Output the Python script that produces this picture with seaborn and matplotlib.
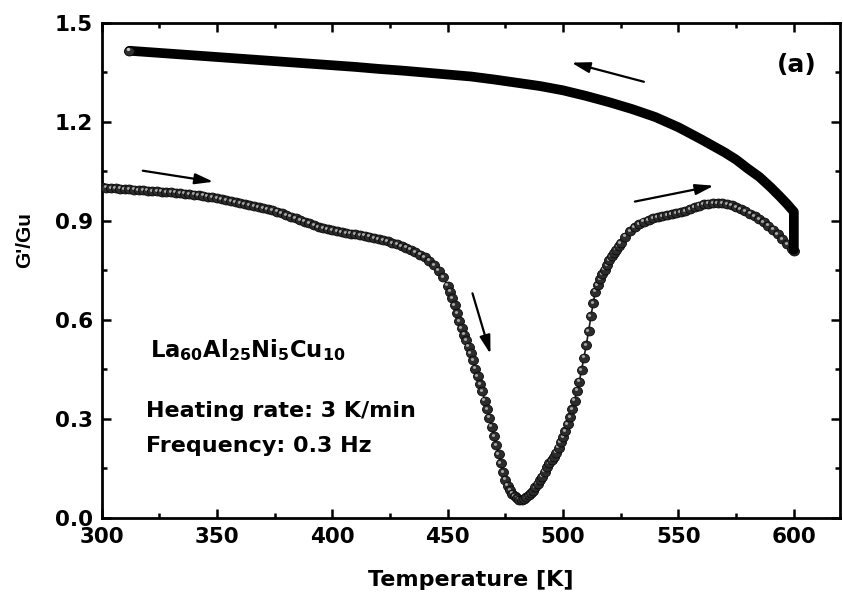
import numpy as np
import pandas as pd
import matplotlib
matplotlib.use("Agg")
import matplotlib.pyplot as plt
import matplotlib.transforms as mtransforms
from matplotlib.path import Path
from matplotlib.ticker import MultipleLocator
import seaborn as sns

# ---------------- data ----------------
# heating run (T in K, G'/Gu)
heat_T = [300, 302, 304, 306, 308, 310, 312, 314, 316, 318, 320, 322, 324, 326, 328, 330,
          332, 334, 336, 338, 340, 342, 344, 346, 348, 350, 352, 354, 356, 358, 360, 362,
          364, 366, 368, 370, 372, 374, 376, 378, 380, 382, 384, 386, 388, 390, 392, 394,
          396, 398, 400, 402, 404, 406, 408, 410, 412, 414, 416, 418, 420, 422, 424, 426,
          428, 430, 432, 434, 436, 438, 440, 442, 444, 446, 448, 450, 451,
          452, 453, 454, 455, 456, 457, 458, 459, 460, 461, 462, 463, 464, 465, 466, 467,
          468, 469, 470, 471, 472, 473, 474, 475, 476, 477, 478, 479, 480, 481, 482, 483,
          484, 485, 486, 487, 488, 489, 490, 491, 492, 493, 494, 495, 496, 497, 498, 499,
          500, 501, 502, 503, 504, 505, 506, 507, 508, 509, 510, 511, 512, 513, 514, 515,
          516, 517, 518, 519, 520, 521, 522, 523, 524,
          525, 527, 529, 531, 533, 535, 537, 539, 541, 543, 545, 547, 549, 551, 553, 555,
          557, 559, 561, 563, 565, 567, 569, 571, 573, 575, 577, 579, 581, 583, 585, 587,
          589, 591, 593, 595, 597, 599, 600]
heat_G = [1.001, 1.000, 0.999, 0.998, 0.997, 0.996, 0.995, 0.994, 0.993, 0.992, 0.991, 0.990,
          0.989, 0.988, 0.987, 0.986, 0.985, 0.983, 0.982, 0.980, 0.979, 0.978, 0.976, 0.973,
          0.971, 0.968, 0.966, 0.963, 0.960, 0.957, 0.954, 0.951, 0.948, 0.945, 0.942, 0.939,
          0.936, 0.932, 0.927, 0.922, 0.917, 0.912, 0.907, 0.902, 0.897, 0.892, 0.887, 0.880,
          0.877, 0.874, 0.871, 0.868, 0.866, 0.863, 0.861, 0.859, 0.857, 0.855, 0.852, 0.848,
          0.845, 0.841, 0.838, 0.833, 0.828, 0.823, 0.818, 0.812, 0.805, 0.797, 0.789, 0.779,
          0.766, 0.749, 0.728, 0.703, 0.685,
          0.665, 0.645, 0.620, 0.595, 0.575, 0.555, 0.538, 0.518, 0.498, 0.478, 0.452, 0.430,
          0.405, 0.383, 0.355, 0.330, 0.303, 0.276, 0.248, 0.220, 0.192, 0.165, 0.138, 0.115,
          0.097, 0.084, 0.073, 0.065, 0.059, 0.055, 0.054, 0.056, 0.062, 0.068, 0.074, 0.082,
          0.092, 0.103, 0.114, 0.124, 0.140, 0.155, 0.165, 0.175, 0.185, 0.197, 0.212, 0.228,
          0.245, 0.262, 0.283, 0.305, 0.330, 0.355, 0.385, 0.412, 0.448, 0.485, 0.522, 0.565,
          0.610, 0.650, 0.685, 0.705, 0.722, 0.738, 0.752, 0.766, 0.780, 0.792, 0.803, 0.812,
          0.822,
          0.832, 0.852, 0.868, 0.880, 0.890, 0.897, 0.902, 0.907, 0.911, 0.914, 0.917, 0.920,
          0.923, 0.926, 0.930, 0.935, 0.941, 0.946, 0.950, 0.952, 0.953, 0.954, 0.953, 0.950,
          0.947, 0.942, 0.936, 0.929, 0.921, 0.913, 0.904, 0.895, 0.885, 0.873, 0.859, 0.844,
          0.829, 0.815, 0.808]

# isothermal hold at 600 K, then cooling run back down
cool_T = [600, 600, 600, 600, 597, 594, 590, 585, 580, 575, 570, 560, 550, 540, 530, 520,
          510, 500, 490, 480, 470, 460, 450, 440, 430, 420, 410, 400, 390, 380, 370, 360,
          350, 340, 330, 320, 312]
cool_G = [0.812, 0.860, 0.900, 0.927, 0.951, 0.973, 1.001, 1.033, 1.058, 1.085, 1.107,
          1.146, 1.183, 1.214, 1.238, 1.259, 1.278, 1.295, 1.308, 1.318, 1.328, 1.337, 1.343,
          1.349, 1.355, 1.360, 1.366, 1.371, 1.376, 1.381, 1.386, 1.391, 1.396, 1.401, 1.406,
          1.411, 1.415]

x_ticks = [300, 350, 400, 450, 500, 550, 600]
y_ticks = [0.0, 0.3, 0.6, 0.9, 1.2, 1.5]
y_tick_labels = ["0.0", "0.3", "0.6", "0.9", "1.2", "1.5"]

# arrows: (start T, start G, end T, end G)
arrows_T0 = [317.8, 460.7, 531.1, 535.0]
arrows_G0 = [1.0515, 0.680, 0.958, 1.321]
arrows_T1 = [348.4, 468.5, 565.3, 503.6]
arrows_G1 = [1.018, 0.496, 1.006, 1.379]

# ---------------- style ----------------
sns.set_style("ticks")
plt.rcParams['font.family'] = ['DejaVu Sans']
plt.rcParams['font.weight'] = 'bold'
plt.rcParams['axes.labelweight'] = 'bold'
for k in ['text.color', 'axes.labelcolor', 'xtick.color', 'ytick.color', 'axes.edgecolor']:
    plt.rcParams[k] = 'black'
plt.rcParams['mathtext.fontset'] = 'custom'
plt.rcParams['mathtext.rm'] = 'DejaVu Sans:bold'
plt.rcParams['mathtext.it'] = 'DejaVu Sans:bold'
plt.rcParams['mathtext.bf'] = 'DejaVu Sans:bold'
plt.rcParams['mathtext.default'] = 'rm'

W, H = 843, 599
fig = plt.figure(figsize=(W / 100, H / 100), dpi=100)
left, right, top, bottom = 101.7, 840.0, 22.7, 517.7
ax = fig.add_axes([left / W, 1 - bottom / H, (right - left) / W, (bottom - top) / H])

heat = pd.DataFrame({'T': heat_T, 'G': heat_G})
cool = pd.DataFrame({'T': cool_T, 'G': cool_G})

# slightly wide ball marker (the reference is stretched horizontally)
ball = Path(Path.unit_circle().vertices * np.array([1.12, 1.0]), Path.unit_circle().codes)

# heating curve: thin connecting line + shaded balls
sns.lineplot(data=heat, x='T', y='G', sort=False, estimator=None, color='#1a1a1a',
             lw=1.2, ax=ax, zorder=2)
hl = mtransforms.offset_copy(ax.transData, fig=fig, x=-1.4, y=1.3, units='dots')
for t, g in zip(heat_T, heat_G):
    ax.plot([t], [g], marker=ball, ms=7.2, mfc='#2c2c2c', mec='#080808', mew=0.6,
            ls='none', zorder=3)
    ax.plot([t], [g], marker=ball, ms=2.3, mfc='#a9a9a9', mec='none', ls='none',
            zorder=3, transform=hl)

# hold + cooling curve: dense black band
sns.lineplot(data=cool, x='T', y='G', sort=False, estimator=None, color='black',
             lw=7.0, ax=ax, zorder=4, solid_capstyle='round', solid_joinstyle='round')
ax.plot([cool_T[-1]], [cool_G[-1]], marker=ball, ms=7.2, mfc='#303030', mec='black',
        mew=0.6, ls='none', zorder=5)
ax.plot([cool_T[-1]], [cool_G[-1]], marker=ball, ms=2.6, mfc='#c8c8c8', mec='none',
        ls='none', zorder=5, transform=hl)

# arrows
for t0, g0, t1, g1 in zip(arrows_T0, arrows_G0, arrows_T1, arrows_G1):
    ax.annotate('', xy=(t1, g1), xytext=(t0, g0),
                arrowprops=dict(arrowstyle='-|>,head_length=0.55,head_width=0.16',
                                mutation_scale=20, lw=1.6, color='black',
                                shrinkA=0, shrinkB=0), zorder=6)

# texts
ax.text(320.9, 0.486, r'La$_{60}$Al$_{25}$Ni$_{5}$Cu$_{10}$', fontsize=16.3,
        fontweight='bold', ha='left', va='baseline')
ax.text(319.2, 0.304, 'Heating rate: 3 K/min', fontsize=16, fontweight='bold',
        ha='left', va='baseline')
ax.text(319.2, 0.200, 'Frequency: 0.3 Hz', fontsize=16, fontweight='bold',
        ha='left', va='baseline')
ax.text(601.1, 1.371, '(a)', fontsize=18, fontweight='bold', ha='center', va='center')

# axes
ax.set_xlim(300, 620)
ax.set_ylim(0, 1.5)
ax.set_xticks(x_ticks)
ax.set_yticks(y_ticks)
ax.set_yticklabels(y_tick_labels)
ax.xaxis.set_minor_locator(MultipleLocator(25))
ax.yaxis.set_minor_locator(MultipleLocator(0.15))
ax.tick_params(which='both', direction='in', top=True, right=True, width=1.8)
ax.tick_params(which='major', length=6.5)
ax.tick_params(which='minor', length=3.8)
ax.tick_params(axis='x', labelsize=15.5, pad=7)
ax.tick_params(axis='y', labelsize=15.5, pad=6.5)
for lab in ax.get_xticklabels() + ax.get_yticklabels():
    lab.set_fontweight('bold')
for sp in ax.spines.values():
    sp.set_linewidth(2.0)
    sp.set_visible(True)

ax.set_xlabel('Temperature [K]', fontsize=16, fontweight='bold')
ax.set_ylabel("G'/Gu", fontsize=15, fontweight='bold', family='Liberation Sans')
ax.xaxis.set_label_coords(0.5, -0.105)
ax.yaxis.set_label_coords(-0.092, 0.561)

fig.savefig('out.png', dpi=100)
